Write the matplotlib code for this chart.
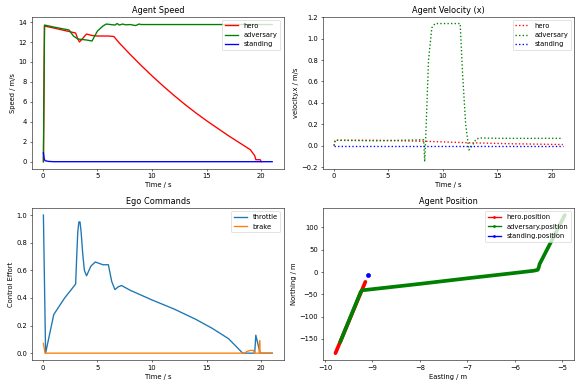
import matplotlib
matplotlib.use("Agg")
import matplotlib.pyplot as plt
from matplotlib.lines import Line2D

# ---------------- Agent Speed ----------------
hero_t = [0.05, 0.15, 1.0, 2.0, 2.8, 3.0, 3.2, 3.35, 3.6, 4.0, 4.5, 5.0, 6.0, 6.5, 7.0,
          8.0, 9.0, 10.0, 11.0, 12.0, 13.0, 14.0, 15.0, 16.0, 17.0, 18.0, 19.0, 19.4,
          19.5, 19.9, 20.0]
hero_speed = [0.0, 13.6, 13.4, 13.15, 12.95, 12.9, 12.3, 12.0, 12.3, 12.8, 12.65, 12.6, 12.6,
              12.55, 11.9, 10.75, 9.65, 8.6, 7.6, 6.65, 5.75, 4.9, 4.1, 3.35, 2.6, 1.9, 1.2, 0.6,
              0.2, 0.2, 0.0]

adv_t = [0.05, 0.15, 1.0, 2.4, 2.8, 3.2, 4.0, 4.5, 5.0, 5.5, 5.8, 6.2, 6.6, 6.8, 7.0, 7.3,
         7.6, 8.0, 8.5, 8.8, 9.0, 10.0, 15.0, 21.0]
adv_speed = [0.0, 13.7, 13.5, 13.2, 12.6, 12.3, 12.2, 12.1, 13.1, 13.6, 13.8, 13.75, 13.7,
             13.85, 13.7, 13.8, 13.72, 13.75, 13.65, 13.8, 13.75, 13.75, 13.75, 13.75]

stand_t = [0.05, 0.12, 0.2, 0.5, 1.0, 21.0]
stand_speed = [0.9, 0.3, 0.1, 0.03, 0.0, 0.0]

# ---------------- Agent Velocity (x) ----------------
hero_vx_t = [0.05, 0.15, 4.0, 8.5, 12.0, 16.0, 21.0]
hero_vx = [0.0, 0.05, 0.05, 0.04, 0.028, 0.018, 0.01]

adv_vx_t = [0.05, 0.15, 4.0, 8.25, 8.35, 8.45, 8.7, 9.0, 9.3, 11.6, 11.8, 12.1, 12.4,
            12.7, 13.0, 13.3, 15.0, 21.0]
adv_vx = [0.0, 0.05, 0.045, 0.055, -0.15, 0.1, 0.8, 1.1, 1.14, 1.14, 0.7, 0.2, -0.04,
          0.0, 0.05, 0.072, 0.068, 0.068]

stand_vx_t = [0.05, 21.0]
stand_vx = [0.0, 0.0]

# ---------------- Ego Commands ----------------
cmd_t = [0.05, 0.25, 1.0, 2.0, 3.0, 3.1, 3.2, 3.3, 3.4, 3.5, 3.65, 3.8, 4.0, 4.4, 4.8, 5.5,
         6.0, 6.3, 6.6, 6.9, 7.2, 8.0, 10.0, 12.0, 14.0, 15.5, 17.0, 18.3, 19.4, 19.5,
         19.8, 19.9, 21.0]
throttle = [1.0, 0.0, 0.28, 0.40, 0.5, 0.7, 0.88, 0.95, 0.95, 0.88, 0.72, 0.6, 0.56, 0.63,
            0.66, 0.64, 0.64, 0.52, 0.46, 0.48, 0.49, 0.455, 0.385, 0.32, 0.245, 0.18, 0.105,
            0.0, 0.0, 0.13, 0.03, 0.0, 0.0]

brake_t = [0.05, 0.2, 18.4, 18.8, 19.0, 19.3, 19.35, 19.8, 19.85, 19.9, 21.0]
brake = [0.07, 0.0, 0.0, 0.015, 0.02, 0.02, 0.0, 0.0, 0.09, 0.0, 0.0]

# ---------------- Agent Position ----------------
hero_e = [-9.78, -9.15]
hero_n = [-182.0, -22.0]

adv_e = [-9.68, -9.25, -9.22, -8.0, -7.0, -6.0, -5.6, -5.52, -5.5, -5.48, -4.95]
adv_n = [-157.0, -45.0, -41.0, -26.5, -14.0, -2.0, 3.0, 5.0, 10.0, 18.0, 128.0]

stand_e = [-9.1]
stand_n = [-6.0]

LW = 2.0
fig, axes = plt.subplots(2, 2, figsize=(11.985, 8.001), dpi=48.5)
ax1, ax2, ax3, ax4 = axes.ravel()

ax1.plot(hero_t, hero_speed, color="r", lw=LW, label="hero")
ax1.plot(adv_t, adv_speed, color="g", lw=LW, label="adversary")
ax1.plot(stand_t, stand_speed, color="b", lw=LW, label="standing")
ax1.set_title("Agent Speed")
ax1.set_xlabel("Time / s")
ax1.set_ylabel("Speed / m/s")
ax1.legend(loc="upper right")

ax2.plot(hero_vx_t, hero_vx, ":", color="r", lw=LW, label="hero")
ax2.plot(adv_vx_t, adv_vx, ":", color="g", lw=LW, label="adversary")
ax2.plot(stand_vx_t, stand_vx, ":", color="b", lw=LW, label="standing")
ax2.set_title("Agent Velocity (x)")
ax2.set_xlabel("Time / s")
ax2.set_ylabel("velocity.x / m/s")
ax2.legend(loc="upper right")

ax3.plot(cmd_t, throttle, color="tab:blue", lw=LW, label="throttle")
ax3.plot(brake_t, brake, color="tab:orange", lw=LW, label="brake")
ax3.set_title("Ego Commands")
ax3.set_xlabel("Time / s")
ax3.set_ylabel("Control Effort")
ax3.legend(loc="upper right")

ax4.plot(hero_e, hero_n, "-", color="r", lw=5.5, solid_capstyle="round")
ax4.plot(adv_e, adv_n, "-", color="g", lw=5.5, solid_capstyle="round")
ax4.plot(stand_e, stand_n, ".", color="b", ms=12)
handles = [Line2D([], [], color=c, marker=".", lw=LW) for c in ("r", "g", "b")]
ax4.legend(handles, ["hero.position", "adversary.position", "standing.position"],
           loc="upper right")
ax4.set_title("Agent Position")
ax4.set_xlabel("Easting / m")
ax4.set_ylabel("Northing / m")
ax4.set_xlim(-10.05, -4.75)

fig.subplots_adjust(left=0.055, right=0.988, top=0.957, bottom=0.072, wspace=0.155, hspace=0.26)
fig.savefig("out.png", dpi=48.5)
